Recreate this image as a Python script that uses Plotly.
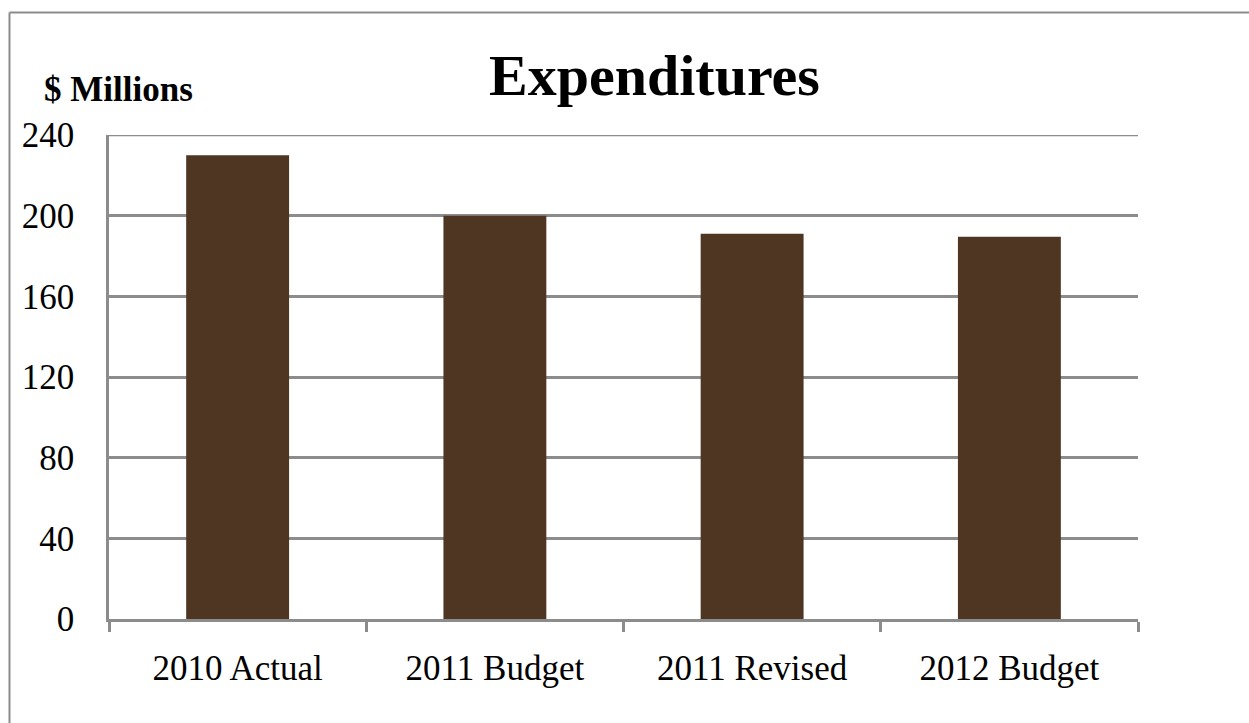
import plotly.graph_objects as go

# Expenditure figures in $ millions
categories = ["2010 Actual", "2011 Budget", "2011 Revised", "2012 Budget"]
expenditures = [230, 200, 191, 189.5]
y_ticks = [0, 40, 80, 120, 160, 200, 240]

BAR_COLOR = "#4F3622"
LINE_COLOR = "#8C8C8C"
FONT = "Liberation Serif"

fig = go.Figure(
    go.Bar(
        x=categories,
        y=expenditures,
        marker=dict(color=BAR_COLOR, line=dict(width=0)),
        width=0.4,
        hoverinfo="x+y",
    )
)

fig.update_layout(
    width=1249,
    height=723,
    margin=dict(l=109, r=111, t=135, b=104),
    paper_bgcolor="white",
    plot_bgcolor="white",
    showlegend=False,
    font=dict(family=FONT, size=35, color="black"),
    annotations=[
        dict(
            text="<b>Expenditures</b>",
            xref="paper", yref="paper",
            x=0.5306, y=1.122,
            xanchor="center", yanchor="middle",
            showarrow=False,
            font=dict(family=FONT, size=58, color="black"),
        ),
        dict(
            text="<b>$ Millions</b>",
            xref="paper", yref="paper",
            x=-0.065, y=1.095,
            xanchor="left", yanchor="middle",
            showarrow=False,
            font=dict(family=FONT, size=35, color="black"),
        ),
    ],
    shapes=[
        # frame around the chart (left and top edges)
        dict(type="line", xref="paper", yref="paper",
             x0=-0.0967, x1=1.2, y0=1.253, y1=1.253,
             line=dict(color=LINE_COLOR, width=2)),
        dict(type="line", xref="paper", yref="paper",
             x0=-0.0967, x1=-0.0967, y0=-0.3, y1=1.253,
             line=dict(color=LINE_COLOR, width=2)),
        # gridline at the top of the value range
        dict(type="line", xref="paper", yref="y",
             x0=0, x1=1, y0=y_ticks[-1], y1=y_ticks[-1],
             line=dict(color=LINE_COLOR, width=2.5)),
    ],
)

fig.update_xaxes(
    type="category",
    showline=True,
    linecolor=LINE_COLOR,
    linewidth=2.5,
    ticks="outside",
    tickson="boundaries",
    ticklen=10,
    tickwidth=2.5,
    tickcolor=LINE_COLOR,
    showgrid=False,
    tickfont=dict(family=FONT, size=35, color="black"),
    ticklabelstandoff=16,
)

fig.update_yaxes(
    range=[0, 240],
    tickvals=y_ticks,
    showline=True,
    linecolor=LINE_COLOR,
    linewidth=2.5,
    showgrid=True,
    gridcolor=LINE_COLOR,
    gridwidth=2.5,
    zeroline=False,
    ticks="",
    tickfont=dict(family=FONT, size=35, color="black"),
    ticklabelstandoff=25,
)

fig.write_html("out.html")
